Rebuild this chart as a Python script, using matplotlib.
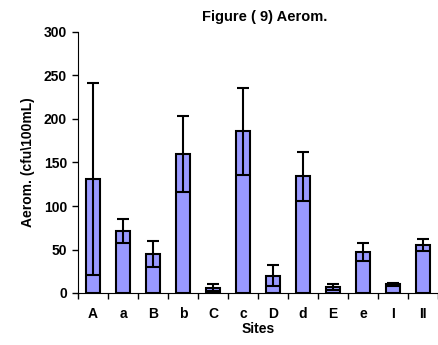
import matplotlib
matplotlib.use("Agg")
import matplotlib.pyplot as plt
import numpy as np

plt.rcParams['font.family'] = ['Liberation Sans', 'DejaVu Sans']
plt.rcParams['font.weight'] = 'bold'

sites = ["A", "a", "B", "b", "C", "c", "D", "d", "E", "e", "I", "II"]
means = [131, 71, 45, 160, 6, 186, 20, 134, 7, 47, 10, 55]
errs = [110, 14, 15, 44, 4, 50, 12, 28, 3, 10, 2, 7]

fig = plt.figure(figsize=(4.39, 3.45), dpi=100)
ax = fig.add_axes([78/439, 52/345, 360/439, 261/345])

x = np.arange(len(sites))
ax.bar(x, means, width=0.45, color="#9999ff", edgecolor="black", linewidth=1.5)
ax.errorbar(x, means, yerr=errs, fmt="none", ecolor="black", elinewidth=1.5,
            capsize=4.5, capthick=1.5)

ax.set_xlim(-0.5, len(sites) - 0.5)
ax.set_ylim(0, 300)
ax.set_yticks(range(0, 301, 50))
ax.set_xticks(x)
ax.set_xticklabels(sites)
ax.set_xticks(np.arange(-0.5, len(sites)), minor=True)
ax.tick_params(axis="x", which="major", length=0, pad=10, labelsize=10)
ax.tick_params(axis="x", which="minor", length=4, width=1)
ax.tick_params(axis="y", length=4, width=1, labelsize=10, pad=4)
for lab in ax.get_xticklabels() + ax.get_yticklabels():
    lab.set_fontweight("bold")

ax.spines["top"].set_visible(False)
ax.spines["right"].set_visible(False)

ax.set_xlabel("Sites", fontsize=10, fontweight="bold", labelpad=1)
ax.set_ylabel("Aerom. (cfu\\100mL)", fontsize=10, fontweight="bold", labelpad=6)
fig.text(265/439, 1 - 17/345, "Figure ( 9) Aerom.", ha="center", va="center",
         fontsize=10.5, fontweight="bold")

fig.savefig("out.png", dpi=100)
